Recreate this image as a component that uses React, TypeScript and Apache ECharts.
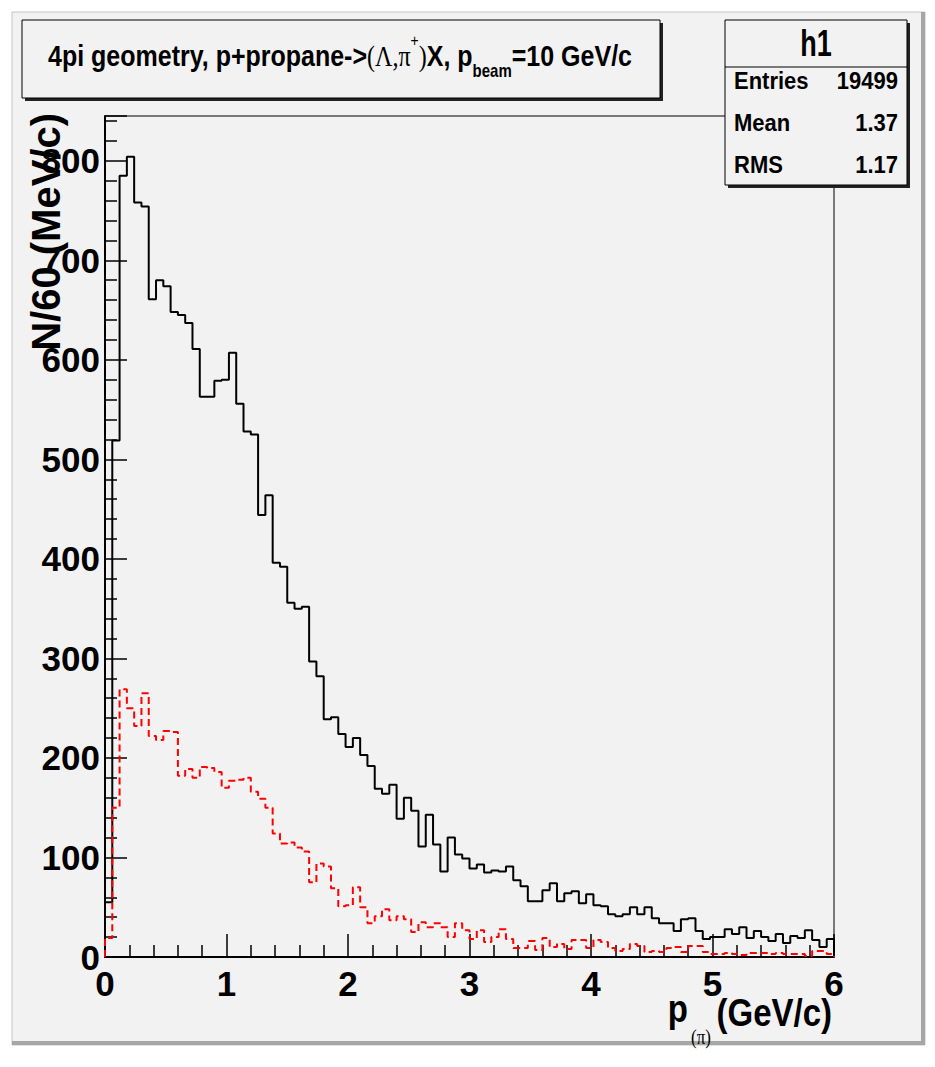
import React, { useEffect, useRef } from "react";
import * as echarts from "echarts";

// ---- data ----
const binWidth = 0.06; // GeV/c (60 MeV/c bins)
const xTickLabels = ["0", "1", "2", "3", "4", "5", "6"];
const yTickLabels = ["0", "100", "200", "300", "400", "500", "600", "700", "800"];

// all pi+ (black, solid)
const blackCounts = [
  55, 519, 785, 804, 758, 754, 661, 680, 674, 648,
  645, 637, 611, 563, 563, 579, 580, 607, 556, 528,
  525, 444, 464, 396, 392, 356, 350, 352, 297, 282,
  239, 241, 224, 211, 220, 203, 192, 169, 164, 173,
  139, 160, 147, 111, 143, 113, 86, 120, 103, 99,
  89, 93, 85, 87, 86, 91, 77, 71, 56, 56,
  67, 74, 56, 64, 66, 54, 63, 52, 51, 43,
  41, 43, 50, 43, 50, 39, 34, 34, 26, 38,
  39, 26, 18, 20, 20, 28, 23, 30, 19, 26,
  20, 16, 23, 14, 21, 19, 27, 17, 10, 18,
];

// (Lambda, pi+) selection (red, dashed)
const redCounts = [
  19, 150, 269, 250, 232, 265, 222, 218, 227, 226,
  182, 189, 180, 191, 190, 186, 170, 177, 178, 180,
  166, 159, 150, 124, 114, 115, 110, 106, 75, 94,
  91, 69, 51, 52, 70, 50, 34, 41, 48, 37,
  41, 38, 25, 35, 30, 34, 30, 20, 34, 27,
  18, 27, 15, 20, 28, 18, 9, 9, 16, 7,
  19, 10, 13, 8, 17, 17, 9, 17, 15, 9,
  6, 8, 13, 11, 5, 6, 5, 9, 10, 5,
  11, 11, 5, 3, 3, 4, 3, 2, 4, 4,
  4, 3, 4, 3, 3, 3, 1, 6, 6, 3,
];

const statsTitle = "h1";
const statsRows = [
  ["Entries", "19499"],
  ["Mean", "1.37"],
  ["RMS", "1.17"],
];

const SANS = "'Liberation Sans', Arial, Helvetica, sans-serif";
const SERIF = "'Liberation Serif', 'DejaVu Serif', serif";

function toSteps(counts: number[]): number[][] {
  const pts: number[][] = [[0, 0]];
  counts.forEach((v, i) => pts.push([+(i * binWidth).toFixed(4), v]));
  const end = +(counts.length * binWidth).toFixed(4);
  pts.push([end, counts[counts.length - 1]]);
  pts.push([end, 0]);
  return pts;
}

export default function App() {
  const ref = useRef<HTMLDivElement>(null);

  useEffect(() => {
    if (!ref.current) return;
    const chart = echarts.init(ref.current, undefined, { renderer: "svg" });

    const statsGraphics: any[] = [];
    statsRows.forEach((row, i) => {
      const y = 81 + i * 42;
      statsGraphics.push({
        type: "text", z: 102, x: 734, y, scaleY: 1.12,
        style: { text: row[0], font: `bold 22px ${SANS}`, fill: "#000", align: "left", verticalAlign: "middle" },
      });
      statsGraphics.push({
        type: "text", z: 102, x: 898, y, scaleY: 1.12,
        style: { text: row[1], font: `bold 22px ${SANS}`, fill: "#000", align: "right", verticalAlign: "middle" },
      });
    });

    const axisLabelStyle = {
      color: "#000",
      fontSize: 35,
      fontWeight: "bold" as const,
      fontFamily: SANS,
    };

    const option: any = {
      animation: false,
      backgroundColor: "#ffffff",
      grid: {
        left: 105, right: 101, top: 116, bottom: 110,
        show: true, borderColor: "#000", borderWidth: 1, backgroundColor: "transparent",
      },
      xAxis: {
        type: "value", min: 0, max: 6, interval: 1,
        axisLine: { show: true, onZero: false, lineStyle: { color: "#000", width: 2 } },
        axisTick: { show: true, inside: true, length: 23, lineStyle: { color: "#000", width: 1.5 } },
        minorTick: { show: true, splitNumber: 5, length: 12, lineStyle: { color: "#000", width: 1.5 } },
        splitLine: { show: false },
        axisLabel: {
          ...axisLabelStyle, margin: 9,
          formatter: (v: number) => xTickLabels[Math.round(v)] ?? "",
        },
      },
      yAxis: {
        type: "value", min: 0, max: 845, interval: 100,
        axisLine: { show: true, onZero: false, lineStyle: { color: "#000", width: 2 } },
        axisTick: { show: true, inside: true, length: 22, lineStyle: { color: "#000", width: 1.5 } },
        minorTick: { show: true, splitNumber: 5, length: 12, lineStyle: { color: "#000", width: 1.5 } },
        splitLine: { show: false },
        axisLabel: {
          ...axisLabelStyle, margin: 5, showMaxLabel: false,
          formatter: (v: number) => (v % 100 === 0 ? yTickLabels[v / 100] ?? "" : ""),
        },
      },
      series: [
        {
          name: "all", type: "line", step: "end", symbol: "none", data: toSteps(blackCounts),
          lineStyle: { color: "#000", width: 2 }, z: 3,
        },
        {
          name: "selected", type: "line", step: "end", symbol: "none", data: toSteps(redCounts),
          lineStyle: { color: "#ff0000", width: 2, type: [7, 4] }, z: 4,
        },
      ],
      graphic: [
        // canvas panel
        { type: "rect", z: -20, shape: { x: 12, y: 12, width: 913, height: 1033 }, style: { fill: "#f2f2f2", stroke: "#c4c4c4", lineWidth: 1 } },
        { type: "rect", z: -19, shape: { x: 12, y: 1041, width: 913, height: 4 }, style: { fill: "#a6a6a6" } },
        { type: "rect", z: -19, shape: { x: 921, y: 12, width: 4, height: 1033 }, style: { fill: "#a6a6a6" } },
        // title box
        { type: "rect", z: 100, shape: { x: 25, y: 23, width: 638, height: 78 }, style: { fill: "#222" } },
        { type: "rect", z: 101, shape: { x: 22, y: 20, width: 638, height: 78 }, style: { fill: "#f2f2f2", stroke: "#000", lineWidth: 1 } },
        {
          type: "text", z: 102, x: 340, y: 56, scaleY: 1.2,
          style: {
            text: "{a|4pi geometry, p+propane->}{g|(Λ,π}{sup|+}{g|)}{a|X, p}{sub|beam}{a|=10 GeV/c}",
            align: "center", verticalAlign: "middle",
            rich: {
              a: { fontFamily: SANS, fontWeight: "bold", fontSize: 25, lineHeight: 40, color: "#000" },
              g: { fontFamily: SERIF, fontWeight: "normal", fontSize: 24, lineHeight: 40, color: "#000" },
              sup: { fontFamily: SANS, fontWeight: "normal", fontSize: 14, lineHeight: 16, verticalAlign: "top", color: "#000" },
              sub: { fontFamily: SANS, fontWeight: "bold", fontSize: 15, lineHeight: 12, verticalAlign: "bottom", color: "#000" },
            },
          },
        },
        // stats box
        { type: "rect", z: 100, shape: { x: 728, y: 23, width: 182, height: 165 }, style: { fill: "#222" } },
        { type: "rect", z: 101, shape: { x: 725, y: 20, width: 182, height: 165 }, style: { fill: "#f2f2f2", stroke: "#000", lineWidth: 1 } },
        { type: "line", z: 102, shape: { x1: 725, y1: 67, x2: 907, y2: 67 }, style: { stroke: "#000", lineWidth: 1 } },
        {
          type: "text", z: 102, x: 816, y: 43, scaleY: 1.35,
          style: { text: statsTitle, font: `bold 27px ${SANS}`, fill: "#000", align: "center", verticalAlign: "middle" },
        },
        ...statsGraphics,
        // y axis title
        {
          type: "text", z: 50, x: 46, y: 113, rotation: Math.PI / 2,
          style: { text: "N/60 (MeV/c)", font: `bold 40px ${SANS}`, fill: "#000", align: "right", verticalAlign: "middle" },
        },
        // x axis title: p_(π) (GeV/c)
        {
          type: "text", z: 50, x: 832, y: 1012, scaleY: 1.2,
          style: { text: "(GeV/c)", font: `bold 33px ${SANS}`, fill: "#000", align: "right", verticalAlign: "middle" },
        },
        {
          type: "text", z: 50, x: 711, y: 1037, scaleY: 1.2,
          style: { text: "(π)", font: `normal 17px ${SERIF}`, fill: "#000", align: "right", verticalAlign: "middle" },
        },
        {
          type: "text", z: 50, x: 688, y: 1008, scaleY: 1.2,
          style: { text: "p", font: `bold 33px ${SANS}`, fill: "#000", align: "right", verticalAlign: "middle" },
        },
      ],
    };

    chart.setOption(option);
    return () => chart.dispose();
  }, []);

  return <div ref={ref} style={{ position: "absolute", left: 0, top: 0, width: 935, height: 1067 }} />;
}
